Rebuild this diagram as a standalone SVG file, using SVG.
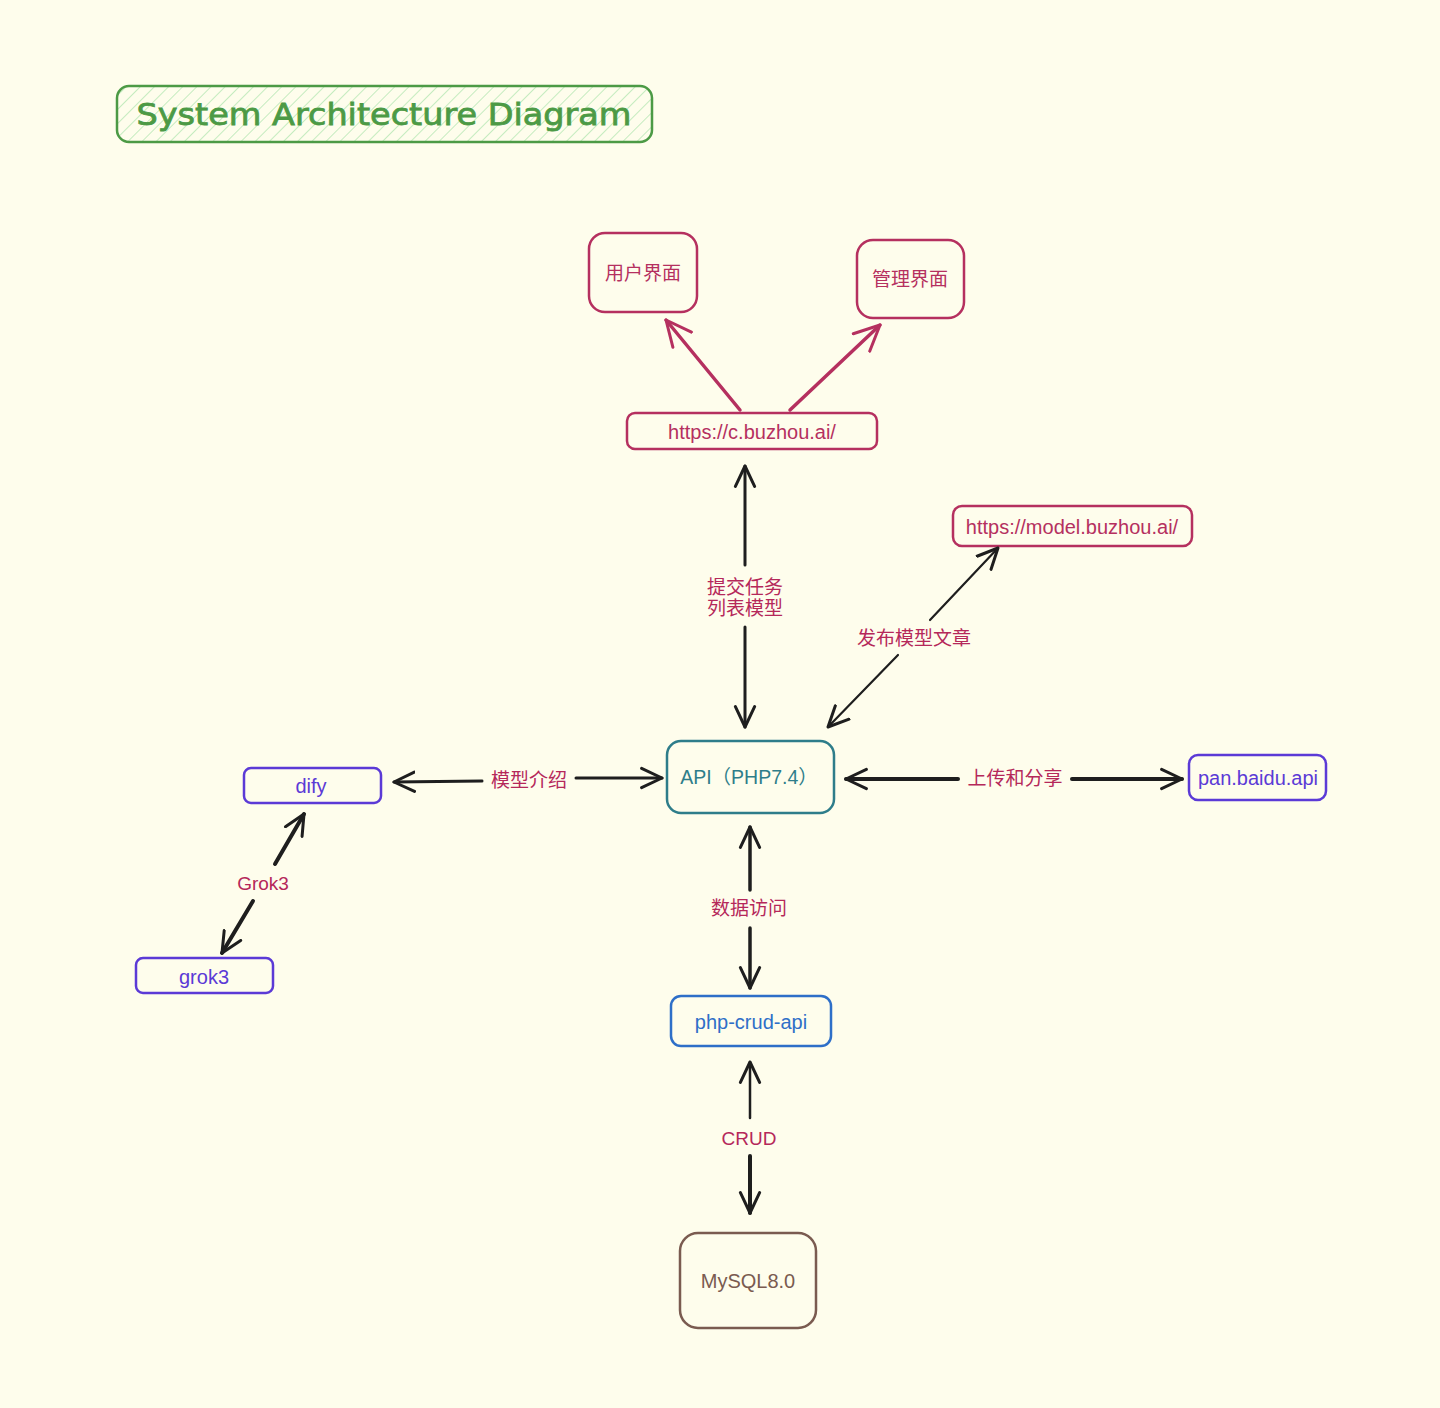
<svg xmlns="http://www.w3.org/2000/svg" width="1440" height="1408" viewBox="0 0 1440 1408">
<defs>
<pattern id="hatch" patternUnits="userSpaceOnUse" width="10" height="10" patternTransform="rotate(45)">
<line x1="0" y1="0" x2="0" y2="10" stroke="#b2e6b0" stroke-width="1.5"/>
</pattern>
<marker id="ahk" viewBox="0 0 20 20" refX="18" refY="10" markerWidth="24" markerHeight="24" markerUnits="userSpaceOnUse" orient="auto-start-reverse">
<path d="M1,2 L18,10 L1,18" fill="none" stroke="#1e1e1e" stroke-width="2.5" stroke-linecap="round" stroke-linejoin="round"/>
</marker>
<marker id="ahr" viewBox="0 0 20 20" refX="18" refY="10" markerWidth="30" markerHeight="30" markerUnits="userSpaceOnUse" orient="auto-start-reverse">
<path d="M1,2 L18,10 L1,18" fill="none" stroke="#b5305f" stroke-width="2" stroke-linecap="round" stroke-linejoin="round"/>
</marker>
</defs>
<style>
.bg{fill:#fefdec}
.t{font-family:"Liberation Sans","Noto Sans CJK SC",sans-serif;font-size:19px;text-anchor:middle;dominant-baseline:central}
.box{fill:none;stroke-width:2.5}
.red{stroke:#b5305f}
.redt{fill:#b5305f}
.pur{stroke:#5b3ad6}
.purt{fill:#5b3ad6}
.lbl{fill:#b5285a}
.edge{fill:none;stroke:#1e1e1e;stroke-linecap:round}
.redge{fill:none;stroke:#b5305f;stroke-linecap:round;stroke-width:3.5}
</style>
<rect class="bg" x="0" y="0" width="1440" height="1408"/>

<g id="title">
<rect x="117" y="86" width="535" height="56" rx="12" fill="url(#hatch)" stroke="#4c9a45" stroke-width="2.5"/>
<text x="384" y="114" font-family="'DejaVu Sans',sans-serif" font-size="30" fill="#4c9a45" stroke="#4c9a45" stroke-width="0.8" text-anchor="middle" dominant-baseline="central" textLength="495" lengthAdjust="spacingAndGlyphs">System Architecture Diagram</text>
</g>

<g id="user-ui">
<rect class="box red" x="589" y="233" width="108" height="79" rx="16"/>
<text class="t redt" x="643" y="273">用户界面</text>
</g>
<g id="admin-ui">
<rect class="box red" x="857" y="240" width="107" height="78" rx="16"/>
<text class="t redt" x="910" y="279">管理界面</text>
</g>
<g id="c-buzhou">
<rect class="box red" x="627" y="413" width="250" height="36" rx="8"/>
<text class="t redt" x="752" y="432" style="font-size:20px">https://c.buzhou.ai/</text>
</g>
<g id="model-buzhou">
<rect class="box red" x="953" y="506" width="239" height="40" rx="9"/>
<text class="t redt" x="1072" y="527" style="font-size:20px">https://model.buzhou.ai/</text>
</g>
<g id="api">
<rect class="box" stroke="#2e7d8a" x="667" y="741" width="167" height="72" rx="14"/>
<text class="t" fill="#2e7d8a" x="749" y="777" style="font-size:19.5px">API（PHP7.4）</text>
</g>
<g id="dify">
<rect class="box pur" x="244" y="768" width="137" height="35" rx="7"/>
<text class="t purt" x="311" y="786" style="font-size:20px">dify</text>
</g>
<g id="pan-baidu">
<rect class="box pur" x="1189" y="755" width="137" height="45" rx="9"/>
<text class="t purt" x="1258" y="778" style="font-size:20px">pan.baidu.api</text>
</g>
<g id="grok3">
<rect class="box pur" x="136" y="958" width="137" height="35" rx="7"/>
<text class="t purt" x="204" y="977" style="font-size:20px">grok3</text>
</g>
<g id="php-crud-api">
<rect class="box" stroke="#2e6fc8" x="671" y="996" width="160" height="50" rx="10"/>
<text class="t" fill="#2e6fc8" x="751" y="1022" style="font-size:20px">php-crud-api</text>
</g>
<g id="mysql">
<rect class="box" stroke="#7a5b50" x="680" y="1233" width="136" height="95" rx="18"/>
<text class="t" fill="#7a5b50" x="748" y="1281" style="font-size:20px">MySQL8.0</text>
</g>

<g id="connectors">
<line class="redge" x1="740" y1="410" x2="666" y2="320" marker-end="url(#ahr)"/>
<line class="redge" x1="790" y1="410" x2="880" y2="325" marker-end="url(#ahr)"/>

<line class="edge" x1="745" y1="466" x2="745" y2="565" stroke-width="3" marker-start="url(#ahk)"/>
<line class="edge" x1="745" y1="627" x2="745" y2="727" stroke-width="3" marker-end="url(#ahk)"/>
<text class="t lbl" x="745" y="587">提交任务</text>
<text class="t lbl" x="745" y="608">列表模型</text>

<line class="edge" x1="998" y1="548" x2="930" y2="620" stroke-width="2.2" marker-start="url(#ahk)"/>
<line class="edge" x1="898" y1="655" x2="828" y2="727" stroke-width="2.2" marker-end="url(#ahk)"/>
<text class="t lbl" x="914" y="638">发布模型文章</text>

<line class="edge" x1="394" y1="782" x2="482" y2="781" stroke-width="3" marker-start="url(#ahk)"/>
<line class="edge" x1="576" y1="778" x2="662" y2="778" stroke-width="3" marker-end="url(#ahk)"/>
<text class="t lbl" x="529" y="780">模型介绍</text>

<line class="edge" x1="846" y1="779" x2="958" y2="779" stroke-width="4" marker-start="url(#ahk)"/>
<line class="edge" x1="1072" y1="779" x2="1182" y2="779" stroke-width="4" marker-end="url(#ahk)"/>
<text class="t lbl" x="1015" y="778">上传和分享</text>

<line class="edge" x1="304" y1="814" x2="275" y2="864" stroke-width="4" marker-start="url(#ahk)"/>
<line class="edge" x1="253" y1="901" x2="222" y2="953" stroke-width="4" marker-end="url(#ahk)"/>
<text class="t lbl" x="263" y="883">Grok3</text>

<line class="edge" x1="750" y1="827" x2="750" y2="890" stroke-width="3.5" marker-start="url(#ahk)"/>
<line class="edge" x1="750" y1="928" x2="750" y2="988" stroke-width="3.5" marker-end="url(#ahk)"/>
<text class="t lbl" x="749" y="908">数据访问</text>

<line class="edge" x1="750" y1="1062" x2="750" y2="1118" stroke-width="2.5" marker-start="url(#ahk)"/>
<line class="edge" x1="750" y1="1156" x2="750" y2="1213" stroke-width="4" marker-end="url(#ahk)"/>
<text class="t lbl" x="749" y="1138">CRUD</text>
</g>
</svg>
